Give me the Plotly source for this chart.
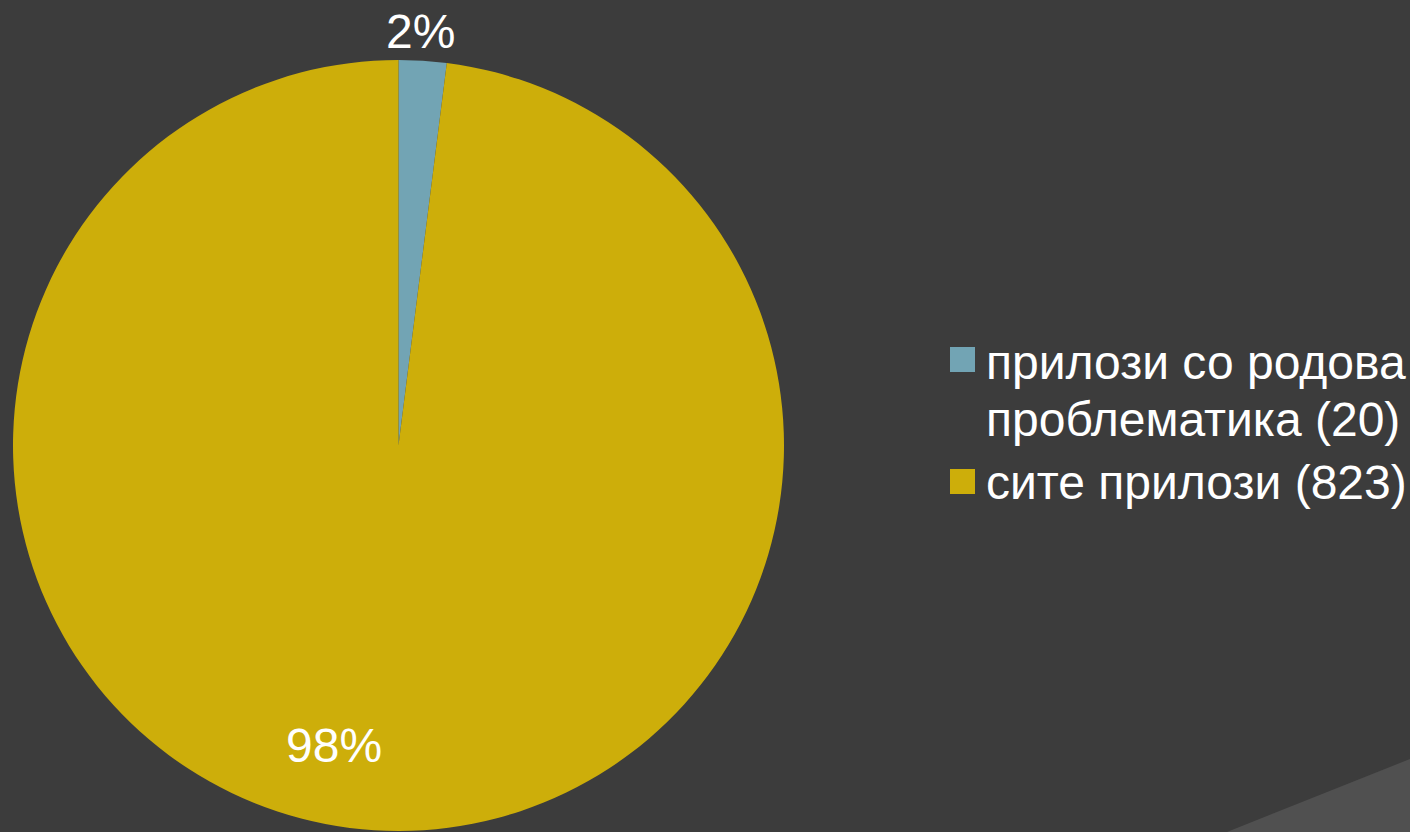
import plotly.graph_objects as go

labels = ["прилози со родова<br>проблематика (20)", "сите прилози (823)"]
values = [2, 98]  # slice sizes as drawn (percent)
colors = ["#72A4B4", "#CDAE0A"]

W, H = 1410, 832
FONT = "Liberation Sans, Arial, sans-serif"
BG = "#3C3C3C"
FS = 48

fig = go.Figure()
fig.add_trace(go.Pie(
    labels=labels,
    values=values,
    sort=False,
    direction="clockwise",
    rotation=0,
    marker=dict(colors=colors, line=dict(width=0)),
    textinfo="none",
    showlegend=False,
    hoverinfo="label+value+percent",
    domain=dict(x=[12 / W, 785 / W], y=[1 - 831 / H, 1 - 60 / H]),
))

# percentage labels (computed from the data)
total = sum(values)
pct_pos = [(420, 31), (334, 745)]
for v, (px, py) in zip(values, pct_pos):
    fig.add_annotation(xref="paper", yref="paper", x=px / W, y=1 - py / H,
                       xanchor="center", yanchor="middle", showarrow=False,
                       text=f"{round(100 * v / total)}%",
                       font=dict(family=FONT, size=FS, color="white"))

# decorative lighter corner triangle
fig.add_shape(type="path", xref="paper", yref="paper",
              path=f"M {1227/W},0 L 1,{1-759/H} L 1,0 Z",
              fillcolor="#505050", line=dict(width=0), layer="below")

# custom legend
square_y = [(347, 372), (469, 494)]
line_centers = [[362, 419], [482]]
for (y0, y1), lab, col, centers in zip(square_y, labels, colors, line_centers):
    fig.add_shape(type="rect", xref="paper", yref="paper",
                  x0=950 / W, x1=975 / W, y0=1 - y1 / H, y1=1 - y0 / H,
                  fillcolor=col, line=dict(width=0))
    for line_text, cy in zip(lab.split("<br>"), centers):
        fig.add_annotation(xref="paper", yref="paper", x=984 / W, y=1 - cy / H,
                           xanchor="left", yanchor="middle", align="left",
                           text=line_text, showarrow=False,
                           font=dict(family=FONT, size=FS, color="white"))

fig.update_layout(
    width=W, height=H,
    margin=dict(l=0, r=0, t=0, b=0),
    paper_bgcolor=BG, plot_bgcolor=BG,
    showlegend=False,
)

fig.write_html("out.html")
